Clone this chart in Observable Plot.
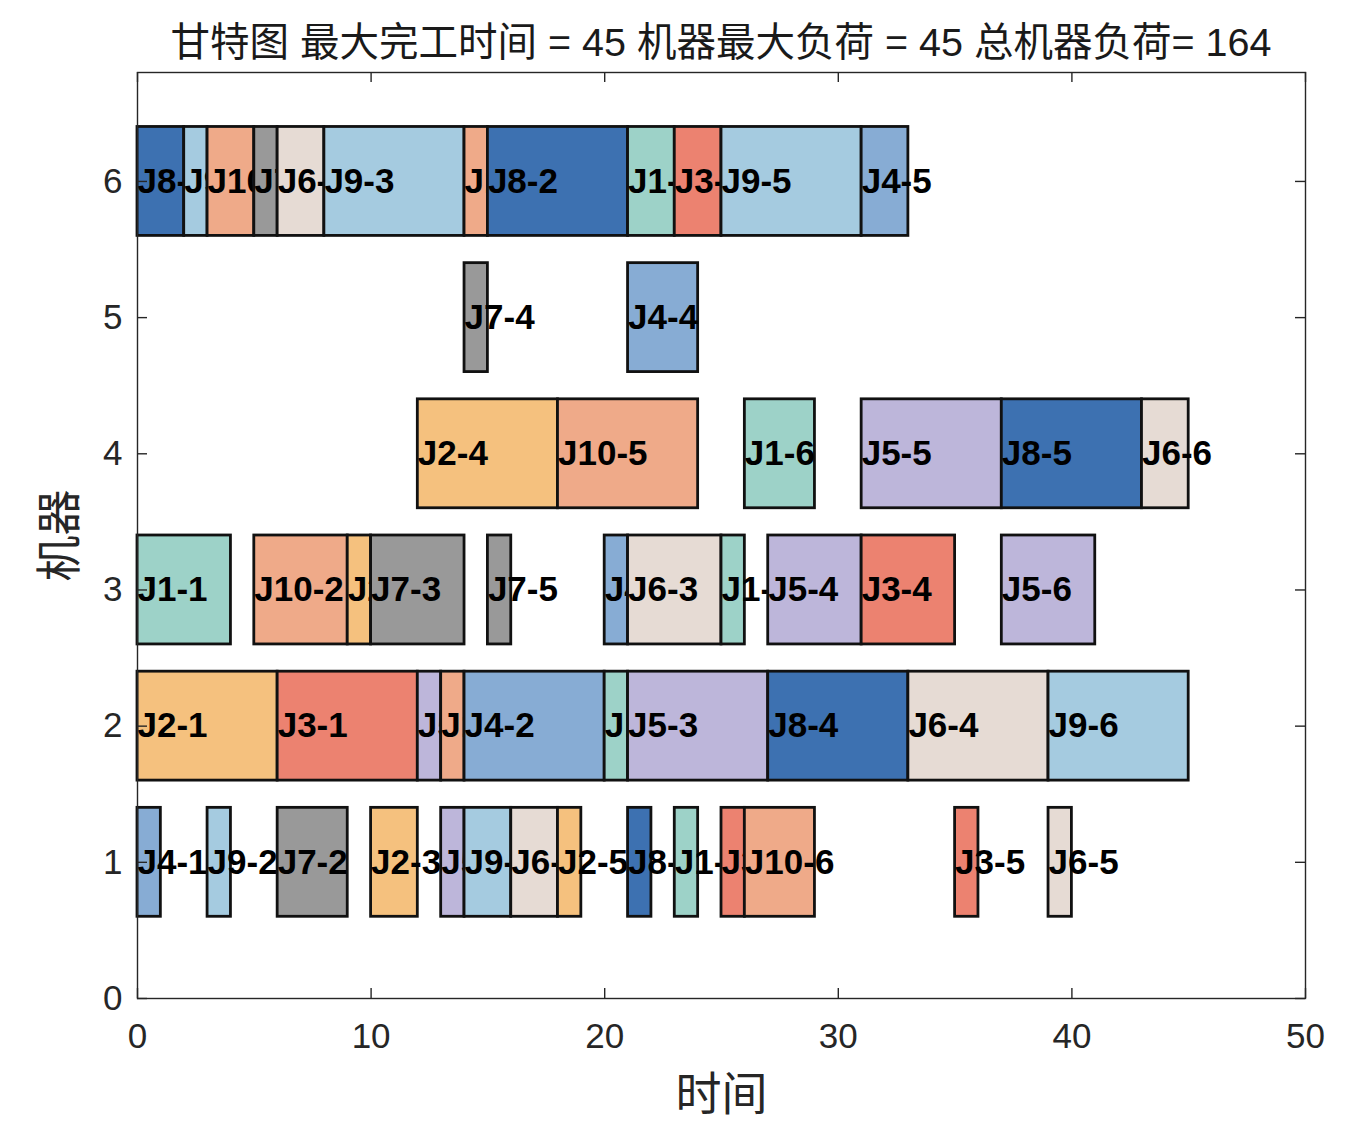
<!DOCTYPE html>
<html>
<head>
<meta charset="utf-8">
<script src="https://cdn.jsdelivr.net/npm/d3@7"></script>
<script src="https://cdn.jsdelivr.net/npm/@observablehq/plot@0.6"></script>
<style>
  html, body { margin: 0; padding: 0; background: #fff; }
  #title {
    width: 1356px; box-sizing: border-box;
    padding: 20px 51px 0 137px; height: 72px;
    text-align: center; font-size: 39.5px; line-height: 44px;
    font-family: "Liberation Sans", "Noto Sans CJK SC", sans-serif;
    color: #1a1a1a; white-space: nowrap;
  }
</style>
</head>
<body>
<div id="title"></div>
<div id="chart"></div>
<script>
const titleText = "甘特图 最大完工时间 = 45 机器最大负荷 = 45 总机器负荷= 164";
const xLabel = "时间";
const yLabel = "机器";
const xTicks = [0, 10, 20, 30, 40, 50];
const yTicks = [0, 1, 2, 3, 4, 5, 6];

const jobNames  = ["J1", "J2", "J3", "J4", "J5", "J6", "J7", "J8", "J9", "J10"];
const jobColors = ["#9dd2c8", "#f5c17e", "#ec8270", "#87acd4", "#bdb6da", "#e6dbd4", "#999999", "#3d71b1", "#a5cbe0", "#efaa89"];

// operations: label, machine, start, end
const opLabel = [
  "J8-1","J9-1","J10-1","J7-1","J6-1","J9-3","J10-4","J8-2","J1-3","J3-2","J9-5","J4-5",
  "J7-4","J4-4",
  "J2-4","J10-5","J1-6","J5-5","J8-5","J6-6",
  "J1-1","J10-2","J2-2","J7-3","J7-5","J4-3","J6-3","J1-5","J5-4","J3-4","J5-6",
  "J2-1","J3-1","J5-1","J10-3","J4-2","J1-2","J5-3","J8-4","J6-4","J9-6",
  "J4-1","J9-2","J7-2","J2-3","J5-2","J9-4","J6-2","J2-5","J8-3","J1-4","J3-3","J10-6","J3-5","J6-5"
];
const opMachine = [
  6,6,6,6,6,6,6,6,6,6,6,6,
  5,5,
  4,4,4,4,4,4,
  3,3,3,3,3,3,3,3,3,3,3,
  2,2,2,2,2,2,2,2,2,2,
  1,1,1,1,1,1,1,1,1,1,1,1,1,1
];
const opStart = [
  0,2,3,5,6,8,14,15,21,23,25,31,
  14,21,
  12,18,26,31,37,43,
  0,5,9,10,15,20,21,25,27,31,37,
  0,6,12,13,14,20,21,27,33,39,
  0,3,6,10,13,14,16,18,21,23,25,26,35,39
];
const opEnd = [
  2,3,5,6,8,14,15,21,23,25,31,33,
  15,24,
  18,24,29,37,43,45,
  4,9,10,14,16,21,25,26,31,35,41,
  6,12,13,14,20,21,27,33,39,45,
  1,4,9,12,14,16,18,19,22,24,26,29,36,40
];

const ops = opLabel.map((label, i) => ({
  label, machine: opMachine[i], start: opStart[i], end: opEnd[i],
  job: label.split("-")[0]
})).sort((a, b) => a.start - b.start || a.machine - b.machine);

const colorOf = job => jobColors[jobNames.indexOf(job)];

const opMarks = ops.flatMap(d => [
  Plot.rect([d], {
    x1: "start", x2: "end",
    y1: o => o.machine - 0.4, y2: o => o.machine + 0.4,
    fill: o => colorOf(o.job), stroke: "#111", strokeWidth: 2.8
  }),
  Plot.text([d], {
    x: "start", y: "machine", text: "label",
    textAnchor: "start", fontSize: 35, fontWeight: "bold", fill: "#000",
    fontFamily: "Liberation Sans, Arial, sans-serif"
  })
]);

document.getElementById("title").textContent = titleText;

const plotW = 1356, plotH = 1066;
const mL = 137, mR = 51, mT = 0, mB = 140;
const innerW = plotW - mL - mR, innerH = plotH - mT - mB;
const tickLen = 10;
const axisColor = "#262626";

const chart = Plot.plot({
  width: plotW, height: plotH,
  marginLeft: mL, marginRight: mR, marginTop: mT, marginBottom: mB,
  style: { fontFamily: "Liberation Sans, 'Noto Sans CJK SC', sans-serif", background: "#fff", overflow: "visible" },
  x: { domain: [0, 50] },
  y: { domain: [0, 6.8] },
  marks: [
    ...opMarks,
    Plot.frame({ stroke: axisColor, strokeWidth: 1.4 }),
    Plot.tickX(xTicks, { x: d => d, insetTop: innerH - tickLen, stroke: axisColor, strokeWidth: 1.4 }),
    Plot.tickX(xTicks, { x: d => d, insetBottom: innerH - tickLen, stroke: axisColor, strokeWidth: 1.4 }),
    Plot.tickY(yTicks, { y: d => d, insetRight: innerW - tickLen, stroke: axisColor, strokeWidth: 1.4 }),
    Plot.tickY(yTicks, { y: d => d, insetLeft: innerW - tickLen, stroke: axisColor, strokeWidth: 1.4 }),
    Plot.axisX(xTicks, { tickSize: 0, tickPadding: 25, fontSize: 35, fill: axisColor, label: null, tickFormat: d3.format("d") }),
    Plot.axisY(yTicks, { tickSize: 0, tickPadding: 15, fontSize: 35, fill: axisColor, label: null, tickFormat: d3.format("d") }),
    Plot.text([xLabel], { text: d => d, frameAnchor: "bottom", textAnchor: "middle", lineAnchor: "middle", dy: 97, fontSize: 46, fill: axisColor }),
    Plot.text([yLabel], { text: d => d, frameAnchor: "left", textAnchor: "middle", lineAnchor: "middle", dx: -77, rotate: -90, fontSize: 46, fill: axisColor })
  ]
});
document.getElementById("chart").appendChild(chart);
</script>
</body>
</html>
